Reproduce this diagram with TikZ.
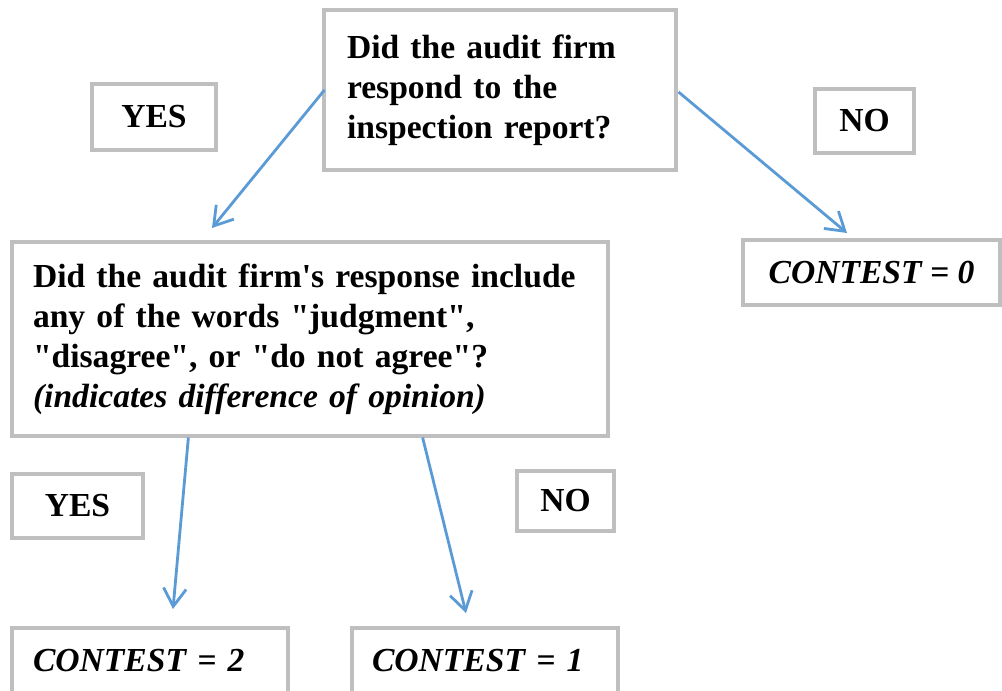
\documentclass[tikz,border=0pt]{standalone}
\usepackage{fontspec}
\setmainfont{Liberation Serif}
\usetikzlibrary{arrows.meta,calc}
\definecolor{boxgray}{RGB}{191,191,191}
\definecolor{arrowblue}{RGB}{91,155,213}
\newcommand{\dq}{\textquotedbl}
\tikzset{
  box/.style={draw=boxgray, line width=2.3pt, fill=white, rectangle, inner ysep=0pt,
    font=\fontsize{25.2}{30}\selectfont\bfseries},
  lbox/.style={box, align=left},
  conn/.style={draw=arrowblue, line width=2.1pt,
    -{Straight Barb[length=13.5pt,width=17pt,line width=2.1pt]}}
}
\begin{document}
\begin{tikzpicture}[x=0.75pt,y=-0.75pt]
\clip (0,0) rectangle (1002,690);
\fill[white] (0,0) rectangle (1002,690);
% question 1
\node[lbox, minimum width=264pt, minimum height=120pt, inner xsep=17.25pt, text width=229.5pt]
  (q1) at (500,90) {Did the audit firm\\respond to the\\inspection report?};
\node[box, minimum width=93pt, minimum height=49.5pt] (yes1) at (154,117) {YES};
\node[box, minimum width=74.25pt, minimum height=48pt] (no1) at (864.5,121) {NO};
\node[box, minimum width=192.75pt, minimum height=48.75pt] (c0) at (871.5,272.5) {\itshape CONTEST = 0};
% question 2
\node[lbox, minimum width=447pt, minimum height=145.5pt, inner xsep=15.75pt, text width=415.5pt]
  (q2) at (310,339) {Did the audit firm\textquotesingle s response include\\any of the words \dq judgment\dq,\\\dq disagree\dq, or \dq do not agree\dq?\\\itshape (indicates difference of opinion)};
\node[box, minimum width=98.25pt, minimum height=48pt] (yes2) at (77.5,506) {YES};
\node[box, minimum width=72.75pt, minimum height=45pt] (no2) at (565.5,501) {NO};
\node[lbox, minimum width=207pt, minimum height=48.75pt, inner xsep=15.75pt, text width=175.5pt]
  (c2) at (150,660.5) {\itshape CONTEST = 2};
\node[lbox, minimum width=199.5pt, minimum height=48.75pt, inner xsep=15pt, text width=169.5pt]
  (c1) at (485,660.5) {\itshape CONTEST = 1};
% arrow ends
\coordinate (e1) at (212,228);
\coordinate (e2) at (847,233);
\coordinate (e3) at (173,609);
\coordinate (e4) at (466,613);
\draw[conn] ($(q1.west)+(2,0)$) -- (e1);
\draw[conn] ($(q1.east)+(1,2)$) -- (e2);
\draw[conn] ($(q2.south west)!0.297!(q2.south east)$) -- (e3);
\draw[conn] ($(q2.south west)!0.688!(q2.south east)$) -- (e4);
\end{tikzpicture}
\end{document}
